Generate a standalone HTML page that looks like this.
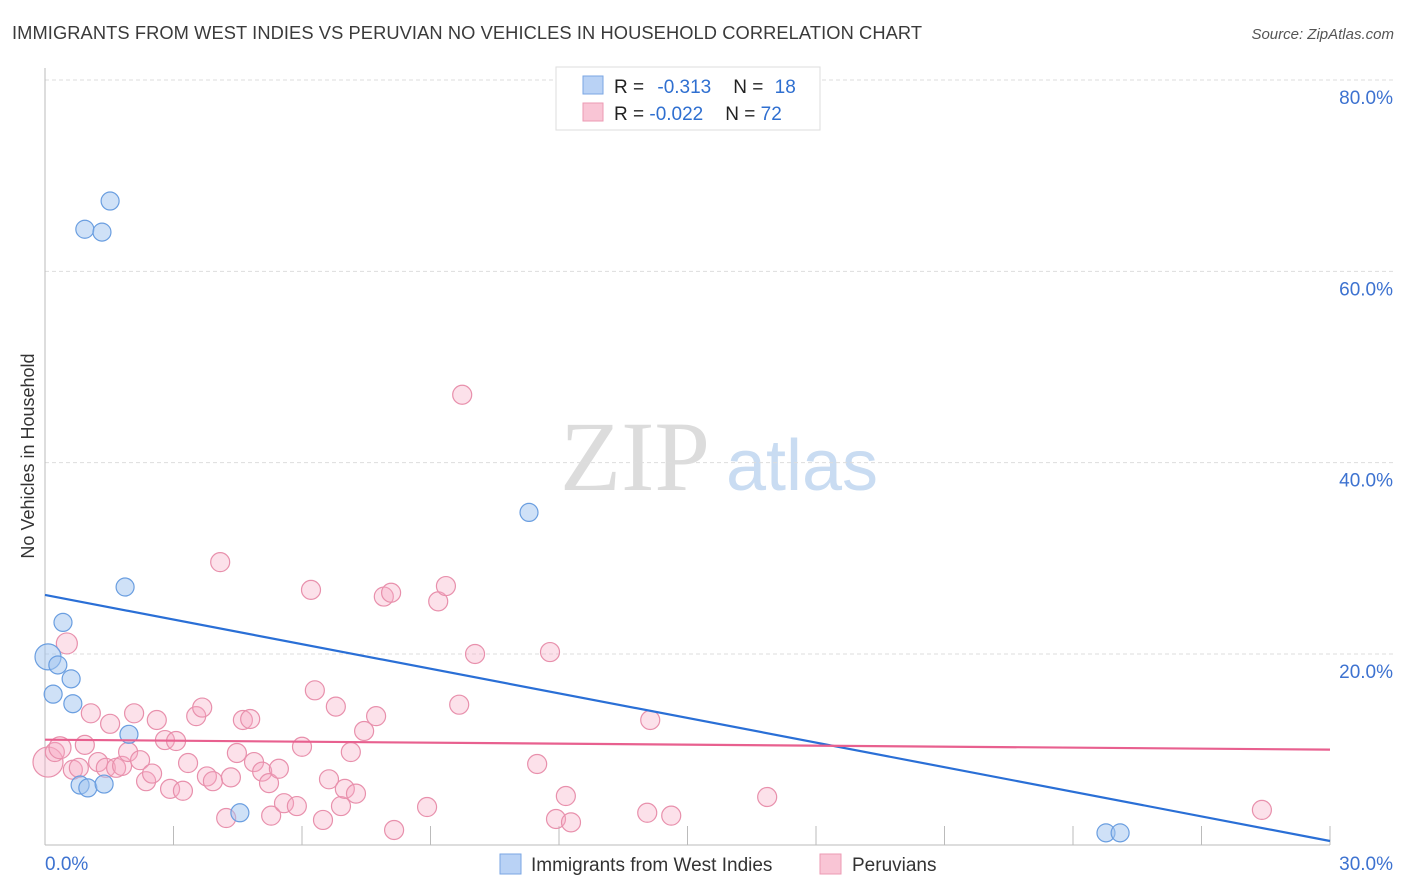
<!DOCTYPE html>
<html><head><meta charset="utf-8"><style>
body{margin:0;background:#fff;font-family:"Liberation Sans",sans-serif}
</style></head><body>
<svg id="chart" width="1406" height="892" xmlns="http://www.w3.org/2000/svg" style="display:block">
<text x="12" y="39" font-size="18.3" fill="#3a3a3a" textLength="910">IMMIGRANTS FROM WEST INDIES VS PERUVIAN NO VEHICLES IN HOUSEHOLD CORRELATION CHART</text>
<text x="1394" y="39" font-size="15" fill="#555" font-style="italic" text-anchor="end">Source: ZipAtlas.com</text>
<g>
<text x="635" y="490" font-size="100" font-family="Liberation Serif,serif" fill="#dcdcdc" text-anchor="middle">ZIP</text>
<text x="802" y="490" font-size="72" fill="#c9dcf2" text-anchor="middle">atlas</text>
</g>
<g id="grid"></g><g id="axes"></g><g id="pts"></g><g id="lines"></g>
<g>
<rect x="556" y="67" width="264" height="63" fill="#fff" stroke="#ddd"/>
<rect x="583" y="76" width="20" height="18" fill="#b9d2f5" stroke="#7aa6e3"/>
<rect x="583" y="103" width="20" height="18" fill="#f9c5d5" stroke="#ec9ab3"/>
<text x="614" y="93" font-size="19" fill="#222">R = <tspan fill="#2f6fd0" dx="8">-0.313</tspan><tspan dx="22" fill="#222">N = </tspan><tspan fill="#2f6fd0" dx="6">18</tspan></text>
<text x="614" y="120" font-size="19" fill="#222">R = <tspan fill="#2f6fd0">-0.022</tspan><tspan dx="22" fill="#222">N = </tspan><tspan fill="#2f6fd0">72</tspan></text>
</g>
<g>
<rect x="500" y="854" width="21" height="20" fill="#b9d2f5" stroke="#7aa6e3"/>
<text x="531" y="871" font-size="19" fill="#333">Immigrants from West Indies</text>
<rect x="820" y="854" width="21" height="20" fill="#f9c5d5" stroke="#ec9ab3"/>
<text x="852" y="871" font-size="19" fill="#333">Peruvians</text>
</g>
<text transform="translate(34,456) rotate(-90)" font-size="18" fill="#333" text-anchor="middle">No Vehicles in Household</text>
</svg>
<script>
const blueX=[0.07,0.30,0.19,0.42,0.61,0.65,1.52,0.93,1.33,1.87,1.96,0.82,1.00,1.38,4.55,11.3,24.77,25.1];
const blueY=[19.7,18.85,15.8,23.3,17.4,14.8,67.35,64.4,64.1,27.0,11.6,6.3,6.0,6.4,3.4,34.8,1.3,1.3];
const pinkX=[0.07,0.23,0.35,0.51,0.65,0.79,0.93,1.07,1.24,1.42,1.52,1.66,1.80,1.94,2.08,2.22,2.36,2.50,2.61,2.80,2.92,3.06,3.22,3.34,3.53,3.67,3.78,3.92,4.09,4.23,4.34,4.48,4.62,4.79,4.88,5.07,5.23,5.28,5.46,5.58,5.88,6.00,6.21,6.30,6.49,6.63,6.79,6.91,7.00,7.14,7.26,7.45,7.73,7.91,8.08,8.15,8.92,9.18,9.36,9.67,9.74,10.04,11.49,11.79,11.93,12.16,12.28,14.06,14.13,14.62,16.86,28.41];
const pinkY=[8.7,9.75,10.2,21.1,7.9,8.1,10.5,13.8,8.7,8.1,12.7,8.1,8.3,9.75,13.8,8.9,6.7,7.5,13.1,11.0,5.9,10.9,5.7,8.6,13.5,14.4,7.2,6.7,29.6,2.85,7.1,9.65,13.1,13.2,8.7,7.7,6.5,3.1,8.0,4.4,4.1,10.3,26.7,16.2,2.65,6.9,14.5,4.1,5.9,9.75,5.4,11.95,13.5,26.0,26.4,1.6,4.0,25.5,27.1,14.7,47.1,20.0,8.5,20.2,2.75,5.15,2.4,3.4,13.1,3.1,5.05,3.7];
const blueTrend=[26.17,0.45];
const pinkTrend=[11.04,10.0];
const yTicks=[20,40,60,80];
const yTickLabels=["20.0%","40.0%","60.0%","80.0%"];
const xTickLabels=["0.0%","30.0%"];
const NS="http://www.w3.org/2000/svg";
const X=v=>45+v*(1285/30), Y=v=>845.3-v*9.566;
function mk(t,a,p){const e=document.createElementNS(NS,t);for(const k in a)e.setAttribute(k,a[k]);p.appendChild(e);return e;}
const grid=document.getElementById('grid'),axes=document.getElementById('axes'),pts=document.getElementById('pts'),lines=document.getElementById('lines');
yTicks.forEach((t,i)=>{
 const l=mk('line',{x1:45,x2:1393,y1:Y(t),y2:Y(t),stroke:'#ddd','stroke-dasharray':'4,3'},grid);
 
 
 const tx=mk('text',{x:1393,y:Y(t)+24,'font-size':19,fill:'#3d72d0','text-anchor':'end'},axes);
 tx.textContent=yTickLabels[i];
 
 
});
mk('line',{x1:45,x2:45,y1:68,y2:845,stroke:'#bbb'},axes);
mk('line',{x1:45,x2:1330,y1:845,y2:845,stroke:'#bbb'},axes);
for(let i=1;i<=10;i++){const tk=mk('line',{x1:X(i*3),x2:X(i*3),y1:826,y2:845,stroke:'#bbb'},axes);
 
 }
const xl0=mk('text',{x:45,y:870,'font-size':19,fill:'#3d72d0'},axes);xl0.textContent=xTickLabels[0];


const xl1=mk('text',{x:1393,y:870,'font-size':19,fill:'#3d72d0','text-anchor':'end'},axes);xl1.textContent=xTickLabels[1];


pinkX.forEach((v,i)=>{const r=i==0?15:(i==2?11:(i==3?10.5:9.5));
 const c=mk('circle',{cx:X(v),cy:Y(pinkY[i]),r:r,fill:'rgba(245,170,195,0.35)',stroke:'#e890ac','stroke-width':1.2},pts);
 
 });
blueX.forEach((v,i)=>{const r=i==0?13:9;
 const c=mk('circle',{cx:X(v),cy:Y(blueY[i]),r:r,fill:'rgba(160,195,240,0.5)',stroke:'#6a9ee0','stroke-width':1.2},pts);
 
 });
const bl=mk('line',{x1:X(0),y1:Y(blueTrend[0]),x2:X(30),y2:Y(blueTrend[1]),stroke:'#2a6fd6','stroke-width':2.2},lines);


const pl=mk('line',{x1:X(0),y1:Y(pinkTrend[0]),x2:X(30),y2:Y(pinkTrend[1]),stroke:'#e8608f','stroke-width':2.2},lines);


</script>
</body></html>
